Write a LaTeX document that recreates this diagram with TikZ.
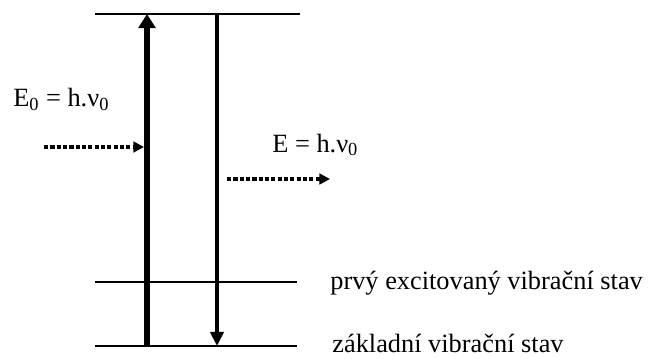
\documentclass[tikz,border=0pt]{standalone}
\usepackage{fontspec}
\setmainfont{Liberation Serif}
\usetikzlibrary{arrows.meta}
\definecolor{ink}{HTML}{000000}

\tikzset{
  level/.style={ink,line width=0.6pt},
  absorb/.style={ink,line width=3.3pt,-{Triangle[length=8pt,width=9.5pt]}},
  emit/.style={ink,line width=2.3pt,-{Triangle[length=8pt,width=7.5pt]}},
  photon/.style={ink,line width=2.2pt,dash pattern=on 2.4pt off 1.2pt,
    -{Triangle[length=6pt,width=6pt]}},
  lbl/.style={anchor=base west,inner sep=0pt,font=\fontsize{15}{15}\selectfont}
}

\begin{document}
\begin{tikzpicture}[x=0.02cm,y=-0.02cm]
  \useasboundingbox (0,0) rectangle (655,358);
  % energy levels
  \coordinate (topL) at (95,14);   \coordinate (topR) at (300,14);
  \coordinate (midL) at (95,282);  \coordinate (midR) at (297,282);
  \coordinate (botL) at (95,346);  \coordinate (botR) at (297,346);
  \draw[level] (topL) -- (topR);
  \draw[level] (midL) -- (midR);
  \draw[level] (botL) -- (botR);
  % transitions
  \coordinate (upS) at (147,346);  \coordinate (upE) at (147,14);
  \coordinate (dnS) at (217,14);   \coordinate (dnE) at (217,346);
  \draw[absorb] (upS) -- (upE);
  \draw[emit] (dnS) -- (dnE);
  % photons
  \coordinate (inS) at (44,147);   \coordinate (inE) at (144,147);
  \coordinate (outS) at (227,179); \coordinate (outE) at (330,179);
  \draw[photon] (inS) -- (inE);
  \draw[photon] (outS) -- (outE);
  % labels
  \node[lbl] (Ein) at (13,107) {E\textsubscript{0} = h.ν\textsubscript{0}};
  \node[lbl] (Eout) at (272,152) {E = h.ν\textsubscript{0}};
  \node[lbl] (exc) at (330,289) {prvý excitovaný vibrační stav};
  \node[lbl] (gnd) at (332,352) {základní vibrační stav};
\end{tikzpicture}
\end{document}
